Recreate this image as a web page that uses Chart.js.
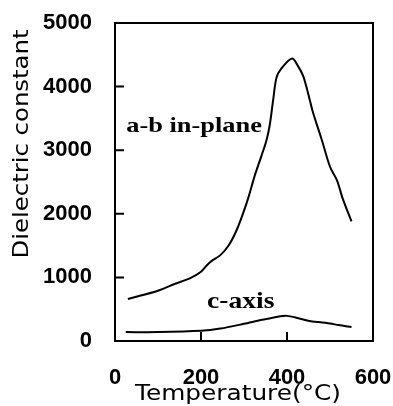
<!DOCTYPE html>
<html>
<head>
<meta charset="utf-8">
<script src="https://cdn.jsdelivr.net/npm/chart.js@4.4.0/dist/chart.umd.min.js"></script>
<style>
    html, body { margin: 0; padding: 0; background: #fff; }
</style>
</head>
<body>
<canvas id="dielCanvas" width="393" height="406"></canvas>
<script>
// valeurs
const abTemp = [30, 60, 100, 140, 175, 200, 215, 225, 245, 265, 283, 298, 310, 325, 340, 352, 360, 368, 376, 390, 412, 425, 438, 453, 461, 481, 500, 516, 530, 550]
const abValue = [660, 715, 790, 900, 990, 1090, 1200, 1260, 1350, 1510, 1745, 2010, 2250, 2600, 2900, 3150, 3400, 3800, 4150, 4310, 4440, 4330, 4160, 3790, 3580, 3160, 2740, 2530, 2230, 1880]

const cTemp = [25, 100, 200, 245, 300, 340, 385, 400, 420, 455, 470, 500, 520, 550]
const cValue = [140, 140, 160, 195, 270, 330, 390, 395, 370, 310, 300, 275, 250, 220]

const xTicks = [0, 200, 400, 600]
const yTicks = [0, 1000, 2000, 3000, 4000, 5000]

const seriesNames = ['a-b in-plane', 'c-axis']
const xTitle = 'Temperature(°C)'
const yTitle = 'Dielectric constant'

function toPoints(xs, ys) {
    return xs.map((x, i) => ({ x: x, y: ys[i] }))
}

// texte étiré horizontalement (la figure scannée est plus large)
function drawStretched(ctx, txt, x, y, font, sx, align, angle) {
    ctx.save()
    ctx.font = font
    ctx.fillStyle = '#000'
    ctx.translate(x, y)
    if (angle) ctx.rotate(angle)
    ctx.scale(sx, 1)
    ctx.textAlign = align
    ctx.textBaseline = 'alphabetic'
    ctx.fillText(txt, 0, 0)
    ctx.restore()
}

// pas de marge ajoutée par les étiquettes aux extrémités
function noPadding(s) {
    s.paddingTop = 0
    s.paddingBottom = 0
    s.paddingLeft = 0
    s.paddingRight = 0
}

const framePlugin = {
    id: 'frame',
    afterDraw(chart) {
        const ctx = chart.ctx
        const area = chart.chartArea
        const xs = chart.scales.x
        const ys = chart.scales.y

        ctx.save()
        ctx.strokeStyle = '#000'
        ctx.lineWidth = 2
        ctx.strokeRect(area.left, area.top, area.right - area.left, area.bottom - area.top)

        // petites graduations vers l'intérieur
        ctx.beginPath()
        yTicks.slice(1, -1).forEach(v => {
            const py = ys.getPixelForValue(v)
            ctx.moveTo(area.left, py)
            ctx.lineTo(area.left + 9, py)
        })
        xTicks.slice(1, -1).forEach(v => {
            const px = xs.getPixelForValue(v)
            ctx.moveTo(px, area.bottom)
            ctx.lineTo(px, area.bottom - 9)
        })
        ctx.stroke()
        ctx.restore()

        // noms des courbes, placés en coordonnées de données
        drawStretched(ctx, seriesNames[0], xs.getPixelForValue(26), ys.getPixelForValue(3290),
            'bold 22px "Liberation Serif"', 1.2, 'left')
        drawStretched(ctx, seriesNames[1], xs.getPixelForValue(214), ys.getPixelForValue(520),
            'bold 23px "Liberation Serif"', 1.2, 'left')

        // titres des axes
        drawStretched(ctx, xTitle, 238, 400, '21px "DejaVu Sans"', 1.18, 'center')
        drawStretched(ctx, yTitle, 28, 144, '21px "DejaVu Sans"', 1.16, 'center', -Math.PI / 2)
    }
}

const tickFont = { family: '"Liberation Sans", Arial, sans-serif', size: 22, weight: 'bold' }

const dielCanvas = document.getElementById('dielCanvas')
const dielChart = new Chart(dielCanvas, {
    type: 'line',
    data: {
        datasets: [{
            label: seriesNames[0],
            data: toPoints(abTemp, abValue),
            borderColor: '#000',
            borderWidth: 2,
            pointRadius: 0,
            tension: 0.3,
            fill: false
        }, {
            label: seriesNames[1],
            data: toPoints(cTemp, cValue),
            borderColor: '#000',
            borderWidth: 2,
            pointRadius: 0,
            tension: 0.3,
            fill: false
        }]
    },
    options: {
        responsive: false,
        animation: false,
        devicePixelRatio: 1,
        layout: { padding: { top: 23, right: 20, left: 0, bottom: 0 } },
        plugins: {
            legend: { display: false },
            tooltip: { enabled: false }
        },
        scales: {
            x: {
                type: 'linear',
                min: 0,
                max: 600,
                afterFit: s => { s.height = 65; noPadding(s) },
                afterBuildTicks: s => { s.ticks = xTicks.map(v => ({ value: v })) },
                grid: { display: false, drawTicks: false },
                border: { display: false },
                ticks: { font: tickFont, color: '#000', padding: 24, maxRotation: 0, callback: v => String(v) }
            },
            y: {
                min: 0,
                max: 5000,
                afterFit: s => { s.width = 115; noPadding(s) },
                afterBuildTicks: s => { s.ticks = yTicks.map(v => ({ value: v })) },
                grid: { display: false, drawTicks: false },
                border: { display: false },
                ticks: { font: tickFont, color: '#000', padding: 23, callback: v => String(v) }
            }
        }
    },
    plugins: [framePlugin]
})
</script>
</body>
</html>
